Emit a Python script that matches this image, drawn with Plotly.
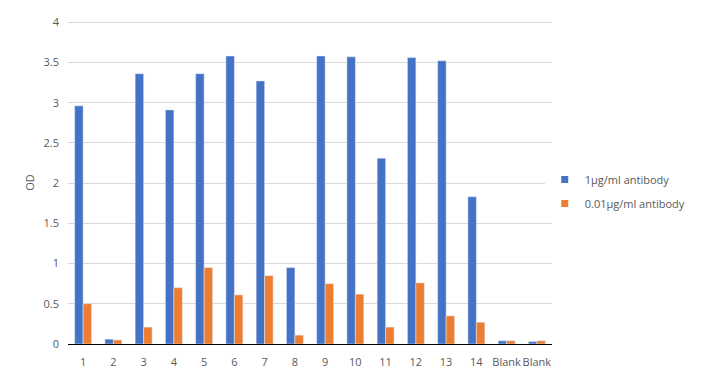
import plotly.graph_objects as go

categories = ["1", "2", "3", "4", "5", "6", "7", "8", "9", "10", "11", "12", "13", "14", "Blank", "Blank"]
series1_name = "1μg/ml antibody"
series1 = [2.96, 0.06, 3.36, 2.91, 3.36, 3.58, 3.27, 0.95, 3.58, 3.57, 2.31, 3.56, 3.52, 1.83, 0.04, 0.03]
series2_name = "0.01μg/ml antibody"
series2 = [0.50, 0.05, 0.21, 0.70, 0.95, 0.61, 0.85, 0.11, 0.75, 0.62, 0.21, 0.76, 0.35, 0.27, 0.04, 0.04]
y_ticks = [0, 0.5, 1, 1.5, 2, 2.5, 3, 3.5, 4]
y_ticktext = ["0", "0.5", "1", "1.5", "2", "2.5", "3", "3.5", "4"]

blue = "#4472C4"
orange = "#ED7D31"
font = "Open Sans, Noto Sans, sans-serif"
xpos = list(range(len(categories)))

fig = go.Figure()
fig.add_trace(go.Bar(x=xpos, y=series1, name=series1_name, marker_color=blue, showlegend=False))
fig.add_trace(go.Bar(x=xpos, y=series2, name=series2_name, marker_color=orange, showlegend=False))
# legend-only entries with small square swatches
fig.add_trace(go.Scatter(x=[None], y=[None], mode="markers", name=series1_name,
                         marker=dict(symbol="square", size=7, color=blue), legendgroup="a"))
fig.add_trace(go.Scatter(x=[None], y=[None], mode="markers", name=series2_name,
                         marker=dict(symbol="square", size=7, color=orange), legendgroup="b"))

# page body has an 8px default margin, so the figure is sized to fit the window
fig.update_layout(
    width=709, height=376,
    margin=dict(l=60, r=165, t=13, b=40, autoexpand=False),
    paper_bgcolor="white", plot_bgcolor="white",
    barmode="group", bargap=0.44, bargroupgap=0,
    font=dict(family=font, size=11, color="#595959"),
    legend=dict(x=0.985, y=0.472, xanchor="left", yanchor="middle",
                font=dict(size=11, color="#595959"), itemwidth=30,
                tracegroupgap=5, traceorder="grouped"),
)
fig.update_xaxes(
    tickmode="array", tickvals=xpos, ticktext=categories,
    range=[-0.5, len(categories) - 0.5], automargin=False,
    showgrid=False, showline=True, linecolor="#000000", linewidth=1,
    ticks="", tickangle=0, tickfont=dict(size=11, color="#595959"), ticklabelstandoff=8,
    zeroline=False,
)
fig.update_yaxes(
    range=[0, 4.015], tickmode="array", tickvals=y_ticks, ticktext=y_ticktext,
    automargin=False,
    showgrid=True, gridcolor="#D9D9D9", gridwidth=1,
    zeroline=False, showline=False, ticks="",
    tickfont=dict(size=11, color="#595959"), ticklabelstandoff=8,
    title=dict(text="OD", font=dict(size=11, color="#595959"), standoff=6),
)
fig.write_html("out.html")
